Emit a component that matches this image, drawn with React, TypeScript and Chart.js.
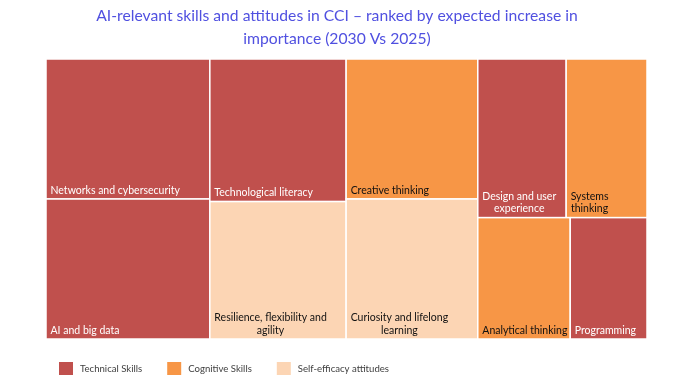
import React, { useEffect, useRef } from "react";
import { Chart, registerables } from "chart.js";

Chart.register(...registerables);

const titleLines = [
  "AI-relevant skills and attitudes in CCI – ranked by expected increase in",
  "importance (2030 Vs 2025)",
];

const skills = [
  "Networks and cybersecurity",
  "AI and big data",
  "Technological literacy",
  "Resilience, flexibility and\nagility",
  "Creative thinking",
  "Curiosity and lifelong\nlearning",
  "Design and user\nexperience",
  "Systems\nthinking",
  "Analytical thinking",
  "Programming",
];

const values = [22.9, 22.9, 19.4, 18.7, 18.4, 18.4, 14.0, 12.8, 11.2, 9.3];

const groups = [
  "Technical",
  "Technical",
  "Technical",
  "Self-efficacy",
  "Cognitive",
  "Self-efficacy",
  "Technical",
  "Cognitive",
  "Cognitive",
  "Technical",
];

const groupKeys = ["Technical", "Cognitive", "Self-efficacy"];
const legendLabels = ["Technical Skills", "Cognitive Skills", "Self-efficacy attitudes"];

const groupColors: Record<string, string> = {
  Technical: "#C0504D",
  Cognitive: "#F79646",
  "Self-efficacy": "#FCD5B4",
};
const groupTextColors: Record<string, string> = {
  Technical: "#FFFFFF",
  Cognitive: "#111111",
  "Self-efficacy": "#111111",
};

const FONT = "Lato, 'Open Sans', sans-serif";

type Cell = { i: number; x: number; y: number; w: number; h: number };

function worst(row: number[], side: number) {
  const s = row.reduce((a, b) => a + b, 0);
  const mx = Math.max(...row);
  const mn = Math.min(...row);
  return Math.max((side * side * mx) / (s * s), (s * s) / (side * side * mn));
}

// squarified treemap in normalized units: width r, height 1
function squarify(order: number[], areas: number[], r: number): Cell[] {
  let x = 0,
    y = 0,
    w = r,
    h = 1;
  const out: Cell[] = [];
  let i = 0;
  while (i < order.length) {
    const side = Math.min(w, h);
    let row = [order[i]];
    let j = i + 1;
    while (j < order.length) {
      const cand = row.concat(order[j]);
      if (worst(cand.map((k) => areas[k]), side) <= worst(row.map((k) => areas[k]), side)) {
        row = cand;
        j++;
      } else break;
    }
    const s = row.reduce((a, k) => a + areas[k], 0);
    if (w >= h) {
      const sw = s / h;
      let cy = y;
      for (const k of row) {
        const hh = areas[k] / sw;
        out.push({ i: k, x, y: cy, w: sw, h: hh });
        cy += hh;
      }
      x += sw;
      w -= sw;
    } else {
      const sh = s / w;
      let cx = x;
      for (const k of row) {
        const ww = areas[k] / sh;
        out.push({ i: k, x: cx, y, w: ww, h: sh });
        cx += ww;
      }
      y += sh;
      h -= sh;
    }
    i = j;
  }
  return out;
}

const treemapPlugin = {
  id: "treemapCells",
  afterDatasetsDraw(chart: any) {
    const { ctx, chartArea, scales } = chart;
    const xs = scales.x;
    const ys = scales.y;
    const r = chartArea.width / chartArea.height;
    const total = values.reduce((a, b) => a + b, 0);
    const areas = values.map((v) => (v / total) * r);
    const order = values.map((_, k) => k).sort((a, b) => values[b] - values[a] || a - b);
    const cells = squarify(order, areas, r);
    ctx.save();
    for (const c of cells) {
      const x0 = xs.getPixelForValue(c.x / r);
      const x1 = xs.getPixelForValue((c.x + c.w) / r);
      const y0 = ys.getPixelForValue(c.y);
      const y1 = ys.getPixelForValue(c.y + c.h);
      const g = groups[c.i];
      ctx.fillStyle = groupColors[g];
      ctx.fillRect(x0, y0, x1 - x0, y1 - y0);
      ctx.strokeStyle = "#FFFFFF";
      ctx.lineWidth = 1.5;
      ctx.strokeRect(x0, y0, x1 - x0, y1 - y0);
      // label
      const lines = skills[c.i].split("\n");
      ctx.font = `10.5px ${FONT}`;
      const widths = lines.map((l) => ctx.measureText(l).width);
      const bw = Math.max(...widths);
      const cx = x0 + 4.5 + bw / 2;
      ctx.fillStyle = groupTextColors[g];
      ctx.textAlign = "center";
      ctx.textBaseline = "alphabetic";
      const lh = 12.5;
      lines.forEach((l, k) => {
        const by = y1 - 5.5 - (lines.length - 1 - k) * lh;
        ctx.fillText(l, cx, by);
      });
    }
    ctx.restore();
  },
  afterDraw(chart: any) {
    const { ctx, chartArea } = chart;
    ctx.save();
    ctx.font = `9.6px ${FONT}`;
    ctx.textAlign = "left";
    ctx.textBaseline = "middle";
    let x = chartArea.left + 13;
    const top = 362;
    groupKeys.forEach((g, k) => {
      ctx.fillStyle = groupColors[g];
      ctx.fillRect(x, top, 14, 13);
      ctx.fillStyle = "#404040";
      const tx = x + 21;
      ctx.fillText(legendLabels[k], tx, top + 7);
      x = tx + ctx.measureText(legendLabels[k]).width + 25;
    });
    ctx.restore();
  },
};

export default function App() {
  const ref = useRef<HTMLCanvasElement | null>(null);
  useEffect(() => {
    if (!ref.current) return;
    const chart = new Chart(ref.current, {
      type: "scatter",
      data: { datasets: [{ label: "cells", data: [] }] },
      options: {
        animation: false,
        responsive: true,
        maintainAspectRatio: false,
        layout: { padding: { left: 27, right: 30, top: 0, bottom: 53 } },
        scales: {
          x: { type: "linear", min: 0, max: 1, display: false },
          y: {
            type: "linear",
            min: 0,
            max: 1,
            reverse: true,
            display: true,
            ticks: { display: false },
            grid: { display: false },
            border: { display: false },
            afterFit: (s: any) => {
              s.width = 19;
            },
          },
        },
        plugins: {
          legend: { display: false },
          tooltip: { enabled: false },
          title: {
            display: true,
            text: titleLines,
            color: "#5050E0",
            font: { family: FONT, size: 15.7, weight: "normal", lineHeight: "23px" },
            padding: { top: 4, bottom: 9 },
          },
        },
      },
      plugins: [treemapPlugin],
    });
    return () => chart.destroy();
  }, []);
  return (
    <div style={{ position: "fixed", left: 0, top: 0, width: 677, height: 392, background: "#fff" }}>
      <canvas ref={ref} />
    </div>
  );
}
